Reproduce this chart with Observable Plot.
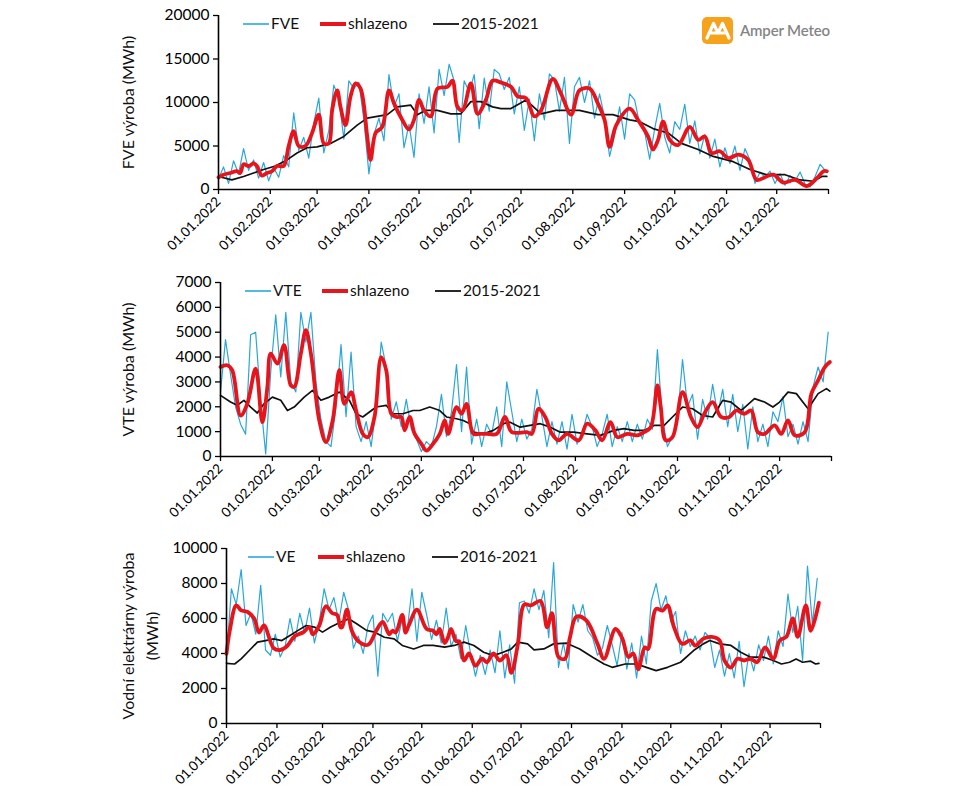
<!DOCTYPE html>
<html><head><meta charset="utf-8">
<script src="https://cdn.jsdelivr.net/npm/d3@7"></script>
<script src="https://cdn.jsdelivr.net/npm/@observablehq/plot@0.6"></script>
<style>
body{margin:0;background:#fff;}
#wrap{position:relative;width:960px;height:800px;background:#fff;font-family:Lato,"Noto Sans",sans-serif;overflow:hidden;}
.panel{position:absolute;left:0;}
.leg{position:absolute;display:flex;align-items:center;font-size:15.5px;color:#111;white-space:nowrap;line-height:1;}
.leg svg{display:block;margin-right:2px;}
#logo{position:absolute;left:0;top:0;}
</style>
</head><body>
<div id="wrap"></div>
<script>
// ---------- DATA ----------
const year = 2022;
const dailyStep = 3; // blue series sampled every 3 days from 01.01.2022
const monthTicks = d3.range(0, 13).map(m => new Date(Date.UTC(year, m, 1)));

// Panel 1: FVE
const fveDaily = [1200,2600,700,3300,1800,4700,2200,3400,1300,3100,1000,2500,1400,3900,2600,8800,4500,6000,3600,7600,
10500,4200,6800,12000,10500,5800,12500,11600,12300,8000,1800,6300,8200,5600,13200,9500,11000,4800,7500,3700,
11000,7600,11800,6500,13800,10800,14400,12500,5400,12500,11200,13200,7000,12800,9000,13800,13300,11500,12900,8700,
11800,6800,10400,5600,11000,8000,13300,12600,9000,12900,5300,11800,12900,10000,12500,8200,11000,8300,3800,6200,
9500,5800,11000,10300,7500,6600,3500,7000,9900,6000,4200,7800,6900,9800,5300,7900,4100,6300,3600,5800,
2600,4800,3000,5000,2200,4700,3400,700,2000,1400,2100,700,1800,500,1600,1000,2000,600,300,1500,2900,2200];
const fveSmoothDays = [0,3,7,11,13,15,18,21,23,26,29,32,35,39,42,45,48,52,56,60,63,66,68,71,73,76,79,82,85,89,91,94,98,102,105,110,114,117,120,123,127,131,137,140,143,146,151,155,160,164,169,175,179,184,189,193,200,205,211,216,222,227,231,234,238,246,251,257,260,263,266,270,275,282,287,291,295,300,305,311,317,322,328,332,338,345,352,358,362,364];
const fveSmoothVals = [1400,1700,1900,2100,1900,2900,2700,3000,2700,1600,1900,2100,2700,2700,5000,6700,5000,5000,6500,8600,5300,5300,9100,11400,9500,7400,10700,12200,11600,6100,3400,6500,7200,11400,9900,8000,6900,8000,10300,9100,8400,11600,11800,12500,9500,9100,12200,8700,10300,12500,12300,11800,10700,10500,8400,9100,12700,11000,8600,11400,11600,9900,8000,4900,7400,9300,8000,6100,4600,5700,7800,5700,5100,7200,5700,6100,4200,4400,3600,4000,3400,1100,1500,1700,800,1100,400,1300,2100,2100];
const fveAvgDays = [0,8,15,21,27,34,41,47,53,59,67,75,83,89,95,101,107,115,119,124,131,139,145,151,157,164,169,175,184,193,202,216,227,236,246,252,260,269,277,287,296,308,318,328,339,348,356,361,364];
const fveAvgVals = [1500,1100,1500,1900,2300,2700,3400,4200,4800,4900,5300,6100,7400,8200,8400,8600,9500,9700,8600,9100,9100,8700,8700,10100,10100,9500,9300,9300,10300,8700,9100,9100,8600,8600,8000,7800,7000,6500,5300,4600,3800,3200,2300,1700,1700,1100,950,1500,1500];

// Panel 2: VTE
const vteDaily = [2600,4700,3300,2000,1300,900,4900,5000,2200,100,3400,5700,3200,5800,3000,2600,5800,4600,5800,3000,
1500,600,400,2000,4500,1600,4200,1200,600,1400,400,2000,4600,3600,1500,2200,1200,2300,1100,700,
200,600,400,1200,2500,800,1800,3700,1000,3600,500,1500,400,1300,900,2000,400,3000,1800,600,
1500,700,1100,2700,1600,400,1400,500,1400,300,1700,500,900,1700,1200,400,900,1700,400,1200,
600,1400,600,1300,700,1500,1100,4300,1500,400,800,1500,3900,2000,2500,700,2300,1500,2900,1700,
2700,1200,2500,1000,2100,300,2000,600,1300,400,1800,1400,2400,800,1300,500,1400,600,2800,3600,3000,5000];
const vteSmoothDays = [0,4,7,12,16,21,25,28,30,34,38,42,44,48,51,54,59,63,67,71,74,78,81,85,88,92,96,99,102,105,108,110,113,116,120,123,127,131,134,136,141,144,147,151,155,159,165,170,174,183,186,190,194,198,202,207,214,219,224,228,233,237,243,249,253,257,261,263,266,270,276,281,285,289,294,299,304,308,313,317,321,325,331,335,339,343,349,353,357,361,364];
const vteSmoothVals = [3600,3670,3470,1650,2120,3530,1380,2800,4140,3740,4480,2860,2800,4140,5080,4140,1450,580,1450,3470,2120,2590,1850,910,780,1590,4000,3470,1720,1590,1590,1050,1590,910,510,240,510,910,1450,910,1990,1720,2120,910,910,910,910,1590,980,980,910,1920,1590,910,650,910,650,1320,1050,650,1380,780,910,850,980,1180,2860,1990,650,780,2590,1590,1180,1720,2190,1590,1590,1850,1720,1850,980,910,1250,910,1450,850,980,2530,3060,3600,3800];
const vteAvgDays = [0,6,10,14,18,22,26,31,36,40,44,50,55,60,65,71,77,81,85,89,93,99,103,109,115,119,125,131,135,141,145,149,151,157,163,169,173,179,185,191,197,203,211,219,227,235,241,247,253,259,265,270,276,282,288,294,300,305,311,319,325,330,334,339,344,351,357,362,364];
const vteAvgVals = [2460,2190,2060,2260,1990,1750,2120,2390,2260,1850,1990,2390,2660,2260,2390,2590,2260,1720,1590,1790,1990,2060,1720,1720,1850,1850,1990,1850,1590,1520,1450,1320,980,910,1050,1320,1380,1180,1250,1320,1180,980,980,910,850,1050,1120,1050,1050,1250,1250,1590,1990,1920,1650,1590,2260,2190,1850,2330,2190,1990,2190,2590,2530,1920,2530,2730,2630];

// Panel 3: VE
const veDaily = [3700,7700,6800,8800,5600,6300,5100,7900,4200,3900,5100,3800,4400,6000,4700,6300,5200,6600,4600,5800,
7700,6500,7200,5800,7500,6500,4300,5000,4000,5600,6200,2700,6300,5800,6300,4700,6000,5300,7700,4700,
7500,6200,4800,5900,4600,6600,4400,5100,3700,5600,4000,2700,3900,2800,4200,2900,5300,2600,4500,2300,
6900,7000,6300,7700,6500,7600,4900,9200,3200,4600,3100,6800,5800,6800,5300,4900,3900,4300,5600,4500,
3300,5200,3100,4600,2600,5000,3400,7000,8000,6500,7300,5800,6400,4000,5300,4400,5000,4200,5200,4900,
3200,4200,2700,4000,2600,4700,2100,4000,3000,4500,3600,5000,3400,5300,4400,7400,5200,6700,3600,9000,5700,8300];
const veSmoothDays = [0,2,6,9,13,17,20,23,29,33,37,42,47,51,53,57,61,65,68,70,71,74,77,81,87,92,96,100,102,104,108,110,112,117,123,127,129,131,134,136,138,141,143,146,149,153,157,160,164,168,172,175,179,183,187,193,197,200,204,208,211,215,221,228,232,239,243,247,250,253,257,259,264,268,271,275,280,285,288,293,298,303,306,310,314,318,322,326,331,336,340,344,348,351,356,359,364];
const veSmoothVals = [3980,5300,6750,6460,6370,6000,5200,5600,4300,4200,4400,5000,5200,5500,5100,5600,6700,6300,6200,5500,5500,6500,5300,4700,4500,5300,5800,5100,5300,5200,6200,5200,5600,6500,5400,5300,5100,5400,4600,4900,5400,4700,4700,3600,4000,3300,3700,3500,4000,3600,3900,2900,4500,6800,6750,7000,5500,6300,3800,3700,4900,6100,5900,4550,3700,5400,4900,3800,4000,3100,4350,4250,6550,6450,6750,5500,4550,4750,4450,4850,4950,4750,3600,3200,3700,3600,3700,3500,4350,3700,4750,4950,6000,4950,6750,5300,6900];
const veAvgDays = [0,5,9,14,19,24,29,34,39,44,49,54,59,64,70,75,80,86,91,97,103,108,115,121,127,134,140,146,152,158,164,170,175,179,185,189,195,201,209,217,225,232,237,245,252,258,264,271,279,287,293,297,303,310,316,322,330,336,341,346,350,354,359,362,364];
const veAvgVals = [3440,3400,3690,4170,4650,4740,4840,4740,5030,5320,5600,5510,5220,5510,5790,5980,5700,5320,5220,4930,4840,4460,4260,4460,4460,4360,4460,4650,4460,4070,3880,4070,4260,4650,4550,4210,4260,4550,4590,4260,3790,3400,3210,3400,3400,3210,3020,3210,3500,4170,4550,4740,4550,4460,4070,3790,3790,3600,3400,3500,3690,3500,3560,3400,3440];

// ---------- HELPERS ----------
const dayDate = d => new Date(Date.UTC(year, 0, 1 + d));
const dailyRows = vals => vals.map((v, i) => ({date: dayDate(i * dailyStep), value: v}));
const pairRows = (days, vals) => days.map((d, i) => ({date: dayDate(d), value: vals[i]}));
const fmtDate = d => d.getUTCFullYear() === year ? d3.utcFormat("%d.%m.%Y")(d) : "";

const BLUE = "#2aa7d9", RED = "#e8141b", BLACK = "#111";
const FONT = "Lato, 'Noto Sans', sans-serif";

const panels = [
  {top: 0, height: 270, mt: 15, mb: 81, ml: 218, mr: 132, yMax: 20000, yStep: 5000,
   label: "FVE výroba (MWh)", labelDx: -92,
   daily: fveDaily, sDays: fveSmoothDays, sVals: fveSmoothVals, aDays: fveAvgDays, aVals: fveAvgVals,
   legend: {y: 24, items: [[243, BLUE, "FVE", 1.6], [320, RED, "shlazeno", 4], [433, BLACK, "2015-2021", 1.8]]}},
  {top: 270, height: 260, mt: 12, mb: 74, ml: 220, mr: 129, yMax: 7000, yStep: 1000,
   label: "VTE výroba (MWh)", labelDx: -94,
   daily: vteDaily, sDays: vteSmoothDays, sVals: vteSmoothVals, aDays: vteAvgDays, aVals: vteAvgVals,
   legend: {y: 291, items: [[245, BLUE, "VTE", 1.6], [322, RED, "shlazeno", 4], [435, BLACK, "2015-2021", 1.8]]}},
  {top: 530, height: 270, mt: 18, mb: 77, ml: 226, mr: 140, yMax: 10000, yStep: 2000,
   label: "Vodní elektrárny výroba\n(MWh)", labelDx: -88,
   daily: veDaily, sDays: veSmoothDays, sVals: veSmoothVals, aDays: veAvgDays, aVals: veAvgVals,
   legend: {y: 557, items: [[248, BLUE, "VE", 1.6], [318, RED, "shlazeno", 4], [432, BLACK, "2016-2021", 1.8]]}}
];

const wrap = document.getElementById("wrap");

panels.forEach(p => {
  const chart = Plot.plot({
    width: 960, height: p.height,
    marginTop: p.mt, marginBottom: p.mb, marginLeft: p.ml, marginRight: p.mr,
    style: {fontFamily: FONT, color: "#000", background: "transparent", overflow: "visible"},
    x: {type: "utc", domain: [monthTicks[0], monthTicks[12]]},
    y: {domain: [0, p.yMax]},
    marks: [
      Plot.axisY({ticks: d3.range(0, p.yMax + 1, p.yStep), tickFormat: d3.format("d"), tickSize: 5, tickPadding: 4, fontSize: 15.5, label: null, stroke: "#000", strokeWidth: 1.3}),
      Plot.axisX({ticks: monthTicks, tickFormat: fmtDate, tickRotate: -45, tickSize: 5, tickPadding: 5, fontSize: 13.5, label: null, stroke: "#000", strokeWidth: 1.3}),
      Plot.lineY(dailyRows(p.daily), {x: "date", y: "value", stroke: BLUE, strokeWidth: 1.2}),
      Plot.lineY(pairRows(p.aDays, p.aVals), {x: "date", y: "value", stroke: BLACK, strokeWidth: 1.7, curve: "linear"}),
      Plot.lineY(pairRows(p.sDays, p.sVals), {x: "date", y: "value", stroke: RED, strokeWidth: 3.8, curve: "catmull-rom"}),
      Plot.ruleX([monthTicks[0]], {stroke: "#000", strokeWidth: 1.6}),
      Plot.ruleY([0], {stroke: "#000", strokeWidth: 1.6}),
      Plot.text([p.label], {frameAnchor: "left", dx: p.labelDx, rotate: -90, fontSize: 16, lineHeight: 1.45, fill: "#111", textAnchor: "middle"})
    ]
  });
  chart.classList.add("panel");
  chart.style.top = p.top + "px";
  wrap.appendChild(chart);

  p.legend.items.forEach(([x, color, text, sw]) => {
    const d = document.createElement("div");
    d.className = "leg";
    d.style.left = x + "px";
    d.style.top = (p.legend.y - 9) + "px";
    d.innerHTML = `<svg width="26" height="18"><line x1="0" x2="26" y1="9" y2="9" stroke="${color}" stroke-width="${sw}"/></svg><span>${text}</span>`;
    wrap.appendChild(d);
  });
});

// Logo
const logo = document.createElementNS("http://www.w3.org/2000/svg", "svg");
logo.setAttribute("id", "logo");
logo.setAttribute("width", "960");
logo.setAttribute("height", "60");
logo.innerHTML = `<rect x="702" y="17" width="31" height="27" rx="5" fill="#f7a21b"/>
<path d="M707,38 L713.5,23.5 L718,33 L722.5,23.5 L729,38 M710,33 L716,33 M720,33 L726,33" fill="none" stroke="#fff" stroke-width="3.2" stroke-linejoin="round" stroke-linecap="round"/>
<text x="740" y="36" font-family="${FONT}" font-size="15" font-weight="600" fill="#858585" textLength="90">Amper Meteo</text>`;
wrap.appendChild(logo);
</script>
</body></html>
